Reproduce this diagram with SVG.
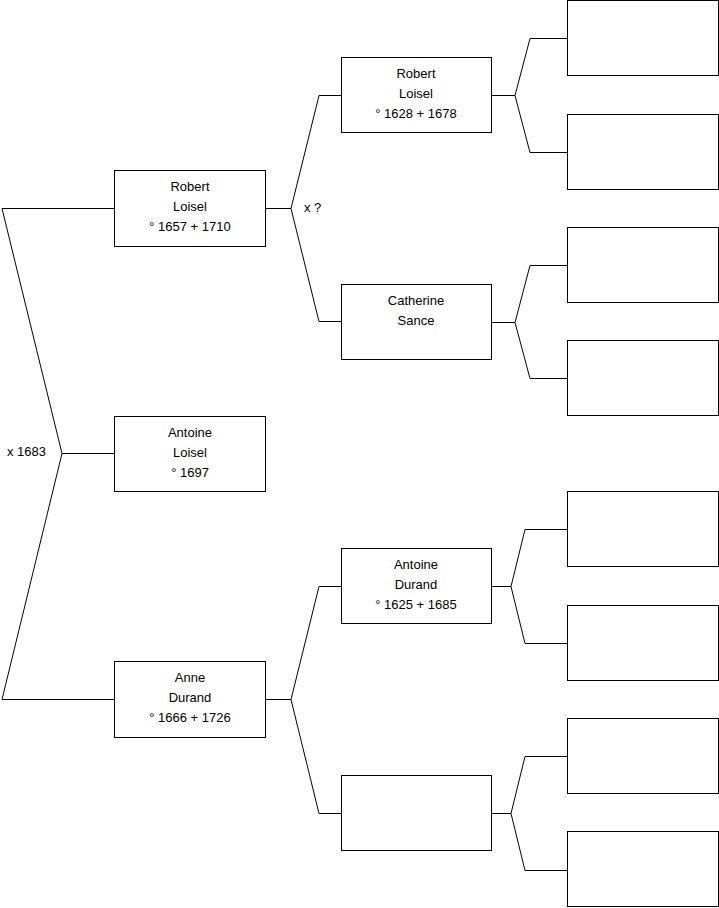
<svg xmlns="http://www.w3.org/2000/svg" width="719" height="908" viewBox="0 0 719 908">
<style>
.box{fill:#fff;stroke:#000;stroke-width:1}
.ln{fill:none;stroke:#000;stroke-width:1}
text{font-family:"Liberation Sans",Arial,sans-serif;font-size:13px;fill:#000}
.c{text-anchor:middle}
</style>
<rect width="719" height="908" fill="#fff"/>
<g id="connectors">
<path class="ln" d="M114,208.5 H2 L62,453.5 L2,699.5 H114 M62,453.5 H114"/>
<path class="ln" d="M265,208.5 H291 L319,95.5 H341 M291,208.5 L319,321.5 H341"/>
<path class="ln" d="M265,699.5 H291 L319,586.5 H341 M291,699.5 L319,813.5 H341"/>
<path class="ln" d="M492,95.5 H515 L530,38.5 H567 M515,95.5 L530,152.5 H567"/>
<path class="ln" d="M492,322.5 H515 L530,265.5 H567 M515,322.5 L530,378.5 H567"/>
<path class="ln" d="M492,586.5 H511 L525,529.5 H567 M511,586.5 L525,643.5 H567"/>
<path class="ln" d="M492,813.5 H511 L525,756.5 H567 M511,813.5 L525,870.5 H567"/>
<text x="7" y="456">x 1683</text>
<text x="304" y="212">x ?</text>
</g>
<g id="robert-loisel-1657">
<rect class="box" x="114.5" y="170.5" width="151" height="76"/>
<text class="c" x="190" y="191">Robert</text>
<text class="c" x="190" y="211">Loisel</text>
<text class="c" x="190" y="231">° 1657 + 1710</text>
</g>
<g id="antoine-loisel">
<rect class="box" x="114.5" y="416.5" width="151" height="75"/>
<text class="c" x="190" y="437">Antoine</text>
<text class="c" x="190" y="457">Loisel</text>
<text class="c" x="190" y="477">° 1697</text>
</g>
<g id="anne-durand">
<rect class="box" x="114.5" y="661.5" width="151" height="76"/>
<text class="c" x="190" y="682">Anne</text>
<text class="c" x="190" y="702">Durand</text>
<text class="c" x="190" y="722">° 1666 + 1726</text>
</g>
<g id="robert-loisel-1628">
<rect class="box" x="341.5" y="57.5" width="150" height="75"/>
<text class="c" x="416" y="78">Robert</text>
<text class="c" x="416" y="98">Loisel</text>
<text class="c" x="416" y="118">° 1628 + 1678</text>
</g>
<g id="catherine-sance">
<rect class="box" x="341.5" y="284.5" width="150" height="75"/>
<text class="c" x="416" y="305">Catherine</text>
<text class="c" x="416" y="325">Sance</text>
</g>
<g id="antoine-durand">
<rect class="box" x="341.5" y="548.5" width="150" height="75"/>
<text class="c" x="416" y="569">Antoine</text>
<text class="c" x="416" y="589">Durand</text>
<text class="c" x="416" y="609">° 1625 + 1685</text>
</g>
<g id="empty-gen2">
<rect class="box" x="341.5" y="775.5" width="150" height="75"/>
</g>
<g id="g3-1"><rect class="box" x="567.5" y="0.5" width="151" height="75"/></g>
<g id="g3-2"><rect class="box" x="567.5" y="114.5" width="151" height="75"/></g>
<g id="g3-3"><rect class="box" x="567.5" y="227.5" width="151" height="75"/></g>
<g id="g3-4"><rect class="box" x="567.5" y="340.5" width="151" height="75"/></g>
<g id="g3-5"><rect class="box" x="567.5" y="491.5" width="151" height="75"/></g>
<g id="g3-6"><rect class="box" x="567.5" y="605.5" width="151" height="75"/></g>
<g id="g3-7"><rect class="box" x="567.5" y="718.5" width="151" height="75"/></g>
<g id="g3-8"><rect class="box" x="567.5" y="831.5" width="151" height="75"/></g>
</svg>
